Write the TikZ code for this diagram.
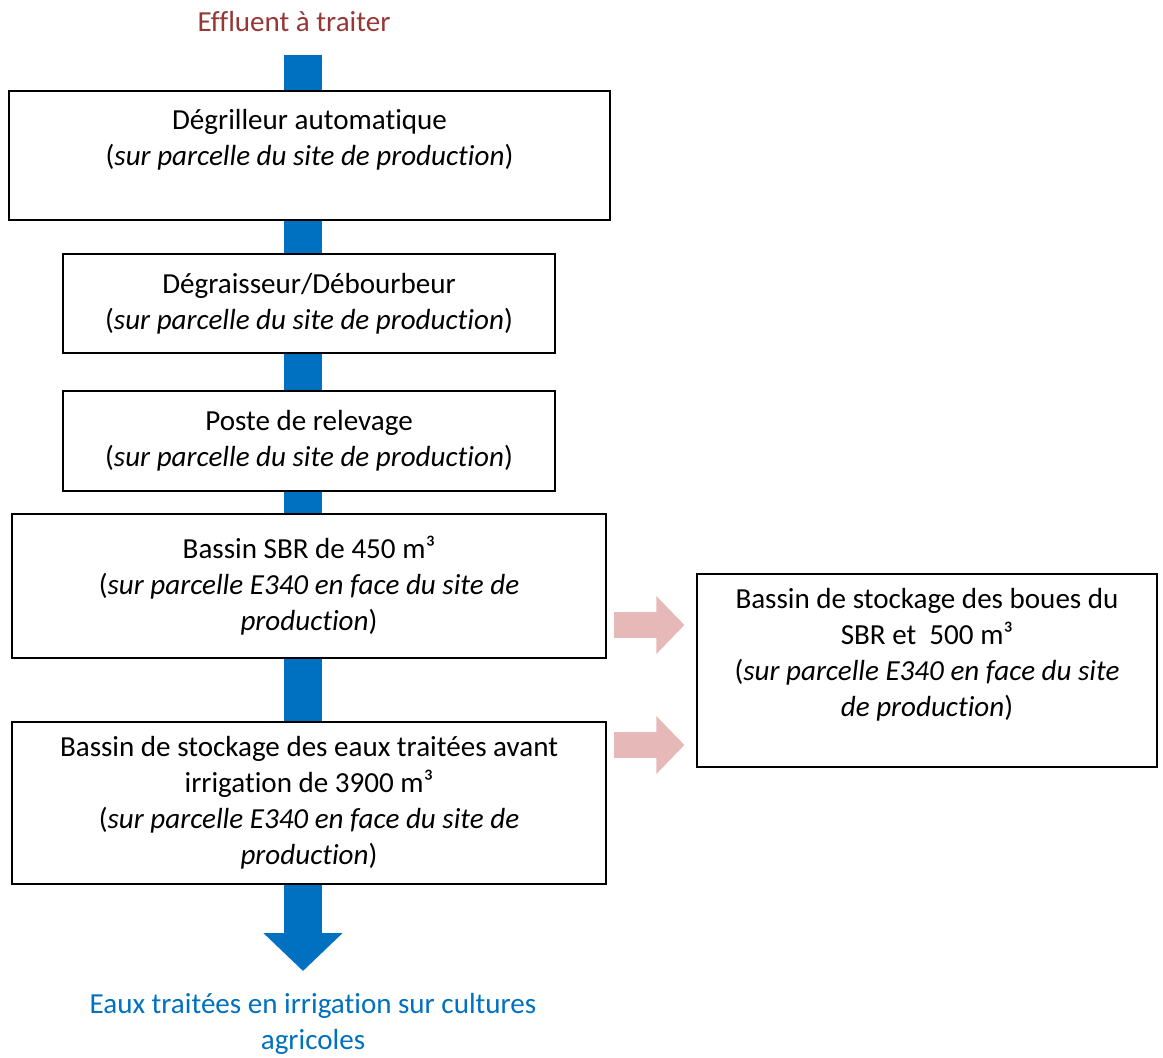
\documentclass[tikz,border=0pt]{standalone}
\usepackage{fontspec}
\setmainfont{Carlito}[Ligatures=NoCommon]
\usepackage{xcolor}
\usetikzlibrary{arrows.meta}

\definecolor{effl}{RGB}{149,55,53}
\definecolor{flowblue}{RGB}{0,112,192}
\definecolor{sludge}{RGB}{230,185,184}

\tikzset{
  stepbox/.style={draw, line width=0.8pt, fill=white, inner sep=0pt, align=center},
  bar/.style={draw=flowblue, line width=28.5pt},
  side/.style={draw=sludge, line width=19.5pt, -{Triangle[width=42pt,length=21pt]}},
}

\begin{document}
\begin{tikzpicture}[x=0.75pt,y=0.75pt,yscale=-1,xscale=1,
  font=\fontsize{21.8}{27}\selectfont]

\useasboundingbox (0,0) rectangle (1163,1057);

\node[text=effl] (title) at (294,22) {Effluent à traiter};

\node[stepbox, minimum width=450.75pt, minimum height=96.75pt] (degr) at (309.5,155.5)
  {Dégrilleur automatique\\(\textit{sur parcelle du site de production})\\ ~};
\node[stepbox, minimum width=369pt, minimum height=74.25pt] (degrai) at (309,303.5)
  {Dégraisseur/Débourbeur\\(\textit{sur parcelle du site de production})};
\node[stepbox, minimum width=369pt, minimum height=75pt] (poste) at (309,441)
  {Poste de relevage\\(\textit{sur parcelle du site de production})};
\node[stepbox, minimum width=445.5pt, minimum height=108pt] (sbr) at (309,586)
  {Bassin SBR de 450 m³\\(\textit{sur parcelle E340 en face du site de}\\\textit{production})};
\node[stepbox, minimum width=445.5pt, minimum height=121.5pt] (stock) at (309,803)
  {Bassin de stockage des eaux traitées avant\\irrigation de 3900 m³\\(\textit{sur parcelle E340 en face du site de}\\\textit{production})};
\node[stepbox, minimum width=345pt, minimum height=144.75pt] (boues) at (927,670.5)
  {Bassin de stockage des boues du\\SBR et\ \ 500 m³\\(\textit{sur parcelle E340 en face du site}\\\textit{de production})\\ ~};

\node[text=flowblue, align=center] (irrig) at (313,1024)
  {Eaux traitées en irrigation sur cultures\\agricoles};

\coordinate (in) at (303,55);
\coordinate (out) at (303,971);

% main flow
\draw[bar] (in) -- (in |- degr.north);
\draw[bar] (in |- degr.south) -- (in |- degrai.north);
\draw[bar] (in |- degrai.south) -- (in |- poste.north);
\draw[bar] (in |- poste.south) -- (in |- sbr.north);
\draw[bar] (in |- sbr.south) -- (in |- stock.north);
\draw[bar, -{Triangle[width=57.75pt,length=28.5pt]}] (in |- stock.south) -- (out);

% sludge
\draw[side] ([xshift=5.25pt]sbr.east |- 0,625) -- ([xshift=-9pt]boues.west |- 0,625);
\draw[side] ([xshift=5.25pt]stock.east |- 0,745) -- ([xshift=-9pt]boues.west |- 0,745);

\end{tikzpicture}
\end{document}
